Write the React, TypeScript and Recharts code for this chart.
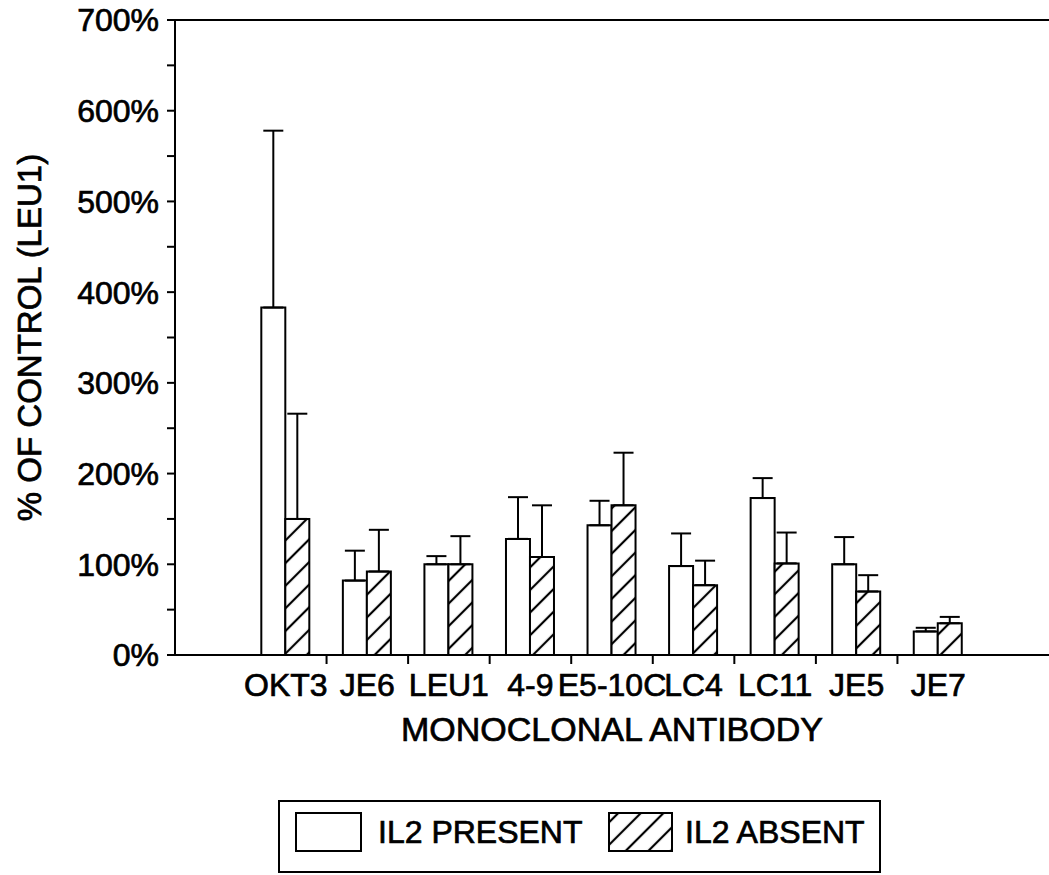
import { BarChart, Bar, XAxis, YAxis, ErrorBar, ReferenceLine } from "recharts"

const antibodies = ["OKT3", "JE6", "LEU1", "4-9", "E5-10C", "LC4", "LC11", "JE5", "JE7"]
const il2Present = [383, 82, 100, 128, 143, 98, 173, 100, 26]
const il2PresentErr = [195, 33, 9, 46, 27, 36, 22, 30, 4]
const il2Absent = [150, 92, 100, 108, 165, 77, 101, 70, 35]
const il2AbsentErr = [116, 46, 31, 57, 58, 27, 34, 18, 7]
const yTicks = [0, 50, 100, 150, 200, 250, 300, 350, 400, 450, 500, 550, 600, 650, 700]

const FONT = "'Liberation Sans', Arial, Helvetica, sans-serif"
// scanned original looks a little heavier than plain regular weight
const INK = 0.7

const rows = antibodies.map((name, i) => ({
  name,
  present: il2Present[i],
  presentErr: [0, il2PresentErr[i]],
  absent: il2Absent[i],
  absentErr: [0, il2AbsentErr[i]],
}))

function AntibodyTick(props: any) {
  const { x, y, payload, index } = props
  const half = payload.offset ?? 0
  return (
    <g>
      <text
        x={x}
        y={y + 9}
        dy="0.71em"
        textAnchor="middle"
        fontSize={32}
        fontFamily={FONT}
        fill="#000"
        stroke="#000"
        strokeWidth={INK}
      >
        {payload.value}
      </text>
      {index < antibodies.length - 1 && (
        <line x1={x + half} x2={x + half} y1={y - 9} y2={y} stroke="#000" strokeWidth={2} />
      )}
    </g>
  )
}

const legendText = {
  position: "absolute" as const,
  top: 10,
  height: 40,
  display: "flex",
  alignItems: "center",
  fontSize: 32,
  whiteSpace: "nowrap" as const,
  WebkitTextStroke: `${INK}px #000`,
}

export default function App() {
  return (
    <div style={{ position: "absolute", left: 0, top: 0, width: 1049, height: 875, background: "#fff", fontFamily: FONT }}>
      <svg width={0} height={0} style={{ position: "absolute" }}>
        <defs>
          <pattern id="hatch" patternUnits="userSpaceOnUse" width={16} height={16} patternTransform="rotate(45)">
            <rect width={16} height={16} fill="#fff" />
            <line x1={8} y1={0} x2={8} y2={16} stroke="#000" strokeWidth={2.2} />
          </pattern>
        </defs>
      </svg>

      <BarChart
        width={1049}
        height={875}
        data={rows}
        margin={{ top: 20, right: 0, bottom: 0, left: 0 }}
        barCategoryGap="20%"
        barGap={0}
      >
        <ReferenceLine y={700} stroke="#000" strokeWidth={2} />
        <XAxis
          dataKey="name"
          interval={0}
          height={220}
          padding={{ left: 70, right: 70 }}
          axisLine={{ stroke: "#000", strokeWidth: 2 }}
          tickLine={false}
          tickSize={9}
          tickMargin={0}
          tick={<AntibodyTick />}
          label={{
            value: "MONOCLONAL ANTIBODY",
            position: "insideTop",
            offset: 62,
            fill: "#000",
            stroke: "#000",
            strokeWidth: INK,
            fontSize: 34,
            fontFamily: FONT,
          }}
        />
        <YAxis
          width={175}
          domain={[0, 700]}
          ticks={yTicks}
          interval={0}
          tickFormatter={(v: number) => (v % 100 === 0 ? `${v}%` : "")}
          tickSize={8}
          tickMargin={8}
          axisLine={{ stroke: "#000", strokeWidth: 2 }}
          tickLine={{ stroke: "#000", strokeWidth: 2 }}
          tick={{ fill: "#000", stroke: "#000", strokeWidth: INK, fontSize: 32, fontFamily: FONT }}
          label={{
            value: "% OF CONTROL (LEU1)",
            angle: -90,
            position: "insideLeft",
            offset: 29,
            fill: "#000",
            stroke: "#000",
            strokeWidth: INK,
            fontSize: 33,
            fontFamily: FONT,
            style: { textAnchor: "middle" },
          }}
        />
        <Bar dataKey="present" fill="#fff" stroke="#000" strokeWidth={2} isAnimationActive={false}>
          <ErrorBar dataKey="presentErr" direction="y" width={10} stroke="#000" strokeWidth={2} isAnimationActive={false} />
        </Bar>
        <Bar dataKey="absent" fill="url(#hatch)" stroke="#000" strokeWidth={2} isAnimationActive={false}>
          <ErrorBar dataKey="absentErr" direction="y" width={10} stroke="#000" strokeWidth={2} isAnimationActive={false} />
        </Bar>
      </BarChart>

      <div
        style={{
          position: "absolute",
          left: 278,
          top: 800,
          width: 603,
          height: 73,
          border: "2px solid #000",
          boxSizing: "border-box",
        }}
      >
        <div style={{ position: "absolute", left: 15, top: 10, width: 67, height: 40, border: "2px solid #000", boxSizing: "border-box", background: "#fff" }} />
        <div style={{ ...legendText, left: 98 }}>IL2 PRESENT</div>
        <svg style={{ position: "absolute", left: 328, top: 10 }} width={65} height={40}>
          <rect x={1} y={1} width={63} height={38} fill="url(#hatch)" stroke="#000" strokeWidth={2} />
        </svg>
        <div style={{ ...legendText, left: 405 }}>IL2 ABSENT</div>
      </div>
    </div>
  )
}
